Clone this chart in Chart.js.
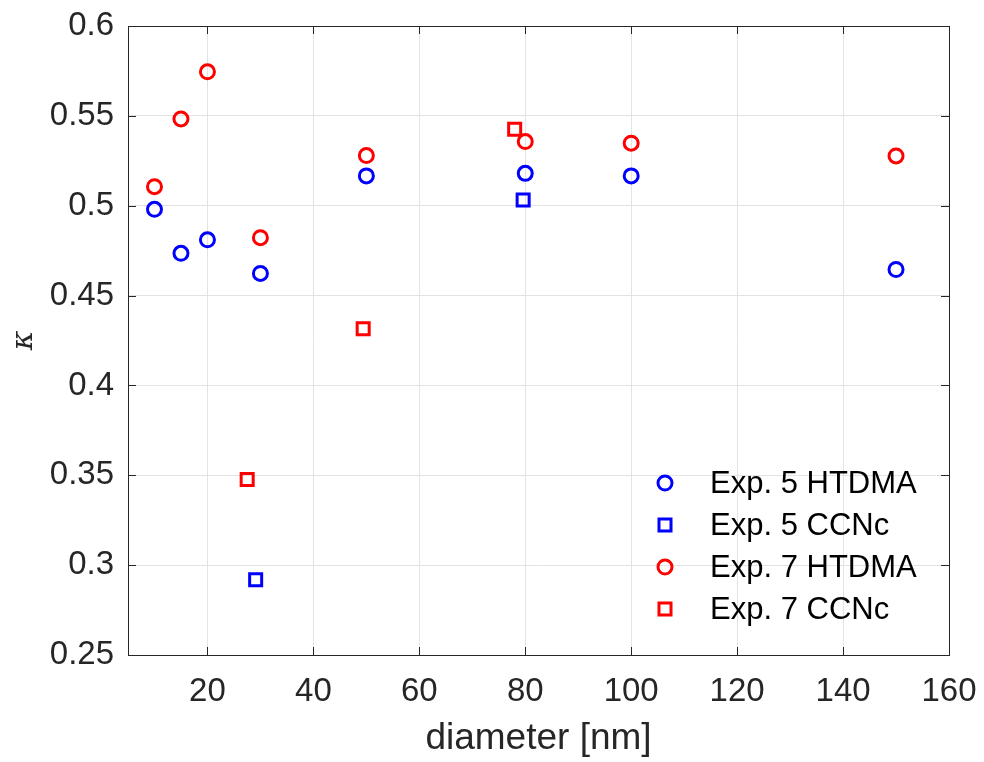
<!DOCTYPE html>
<html>
<head>
<meta charset="utf-8">
<script src="https://cdn.jsdelivr.net/npm/chart.js@4"></script>
<style>
html,body{margin:0;padding:0;background:#fff;}
#wrap{width:984px;height:762px;}
</style>
</head>
<body>
<div id="wrap"><canvas id="c" width="984" height="762"></canvas></div>
<script>
const diameters = [10, 15, 20, 30, 50, 80, 100, 150];
const exp5Htdma = [0.498, 0.4735, 0.481, 0.4623, 0.5166, 0.518, 0.5166, 0.4645];
const exp7Htdma = [0.5106, 0.5483, 0.5745, 0.4822, 0.5279, 0.5357, 0.5348, 0.5277];
const exp5CcncD = [29.1, 79.6];
const exp5Ccnc = [0.2919, 0.5032];
const exp7CcncD = [27.5, 49.4, 78.0];
const exp7Ccnc = [0.3477, 0.4315, 0.5426];
const xTicks = [20, 40, 60, 80, 100, 120, 140, 160];
const yTicks = [0.25, 0.3, 0.35, 0.4, 0.45, 0.5, 0.55, 0.6];
const seriesLabels = ['Exp. 5 HTDMA', 'Exp. 5 CCNc', 'Exp. 7 HTDMA', 'Exp. 7 CCNc'];

const pts = (xs, ys) => xs.map((x, i) => ({x: x, y: ys[i]}));
const FONT = "'Liberation Sans', Arial, Helvetica, sans-serif";
const AXC = '#262626';

function ds(label, data, color, style, r) {
  return {label, data, borderColor: color, backgroundColor: 'rgba(0,0,0,0)',
    pointBackgroundColor: 'rgba(0,0,0,0)', pointBorderColor: color,
    pointStyle: style, pointRadius: r, pointHoverRadius: r, pointBorderWidth: 3, showLine: false};
}

function zeroPad(s) { s.paddingTop = 0; s.paddingBottom = 0; s.paddingLeft = 0; s.paddingRight = 0; }

const framePlugin = {
  id: 'frame',
  afterDatasetsDraw(chart) {
    const {ctx, chartArea: a, scales} = chart;
    ctx.save();
    ctx.strokeStyle = AXC;
    ctx.lineWidth = 1;
    ctx.beginPath();
    xTicks.forEach(v => {
      const px = Math.round(scales.x.getPixelForValue(v)) + 0.5;
      ctx.moveTo(px, a.bottom); ctx.lineTo(px, a.bottom - 8);
      ctx.moveTo(px, a.top); ctx.lineTo(px, a.top + 8);
    });
    yTicks.forEach(v => {
      const py = Math.round(scales.y.getPixelForValue(v)) + 0.5;
      ctx.moveTo(a.left, py); ctx.lineTo(a.left + 8, py);
      ctx.moveTo(a.right, py); ctx.lineTo(a.right - 8, py);
    });
    ctx.stroke();
    ctx.strokeRect(Math.round(a.left) + 0.5, Math.round(a.top) + 0.5,
      Math.round(a.right - a.left), Math.round(a.bottom - a.top));
    // legend
    const x0 = 665, tx = 710, y0 = 483, dy = 42;
    ctx.font = '31px ' + FONT;
    ctx.textBaseline = 'middle';
    ctx.textAlign = 'left';
    chart.data.datasets.forEach((d, i) => {
      const y = y0 + i * dy;
      ctx.strokeStyle = d.pointBorderColor;
      ctx.fillStyle = 'rgba(0,0,0,0)';
      ctx.lineWidth = 3;
      Chart.helpers.drawPoint(ctx, {pointStyle: d.pointStyle, radius: d.pointRadius, borderWidth: 3, rotation: 0}, x0, y);
      ctx.fillStyle = '#000';
      ctx.fillText(d.label, tx, y + 1);
    });
    ctx.restore();
  }
};

new Chart(document.getElementById('c'), {
  type: 'scatter',
  data: {
    datasets: [
      ds(seriesLabels[0], pts(diameters, exp5Htdma), '#0000ff', 'circle', 7),
      ds(seriesLabels[1], pts(exp5CcncD, exp5Ccnc), '#0000ff', 'rect', 8.5),
      ds(seriesLabels[2], pts(diameters, exp7Htdma), '#ff0000', 'circle', 7),
      ds(seriesLabels[3], pts(exp7CcncD, exp7Ccnc), '#ff0000', 'rect', 8.5)
    ]
  },
  options: {
    responsive: false,
    animation: false,
    events: [],
    layout: {padding: {top: 26, right: 35, left: 0, bottom: 0}},
    plugins: {legend: {display: false}, tooltip: {enabled: false}},
    scales: {
      x: {
        type: 'linear', min: 5, max: 160,
        afterBuildTicks: s => { s.ticks = xTicks.map(v => ({value: v})); },
        afterFit: s => { s.height = 107; zeroPad(s); },
        grid: {color: '#e3e3e3', lineWidth: 1, drawTicks: false},
        border: {display: false},
        ticks: {font: {family: FONT, size: 33}, color: AXC, padding: 17, maxRotation: 0,
          callback: v => String(v)},
        title: {display: true, text: 'diameter [nm]', font: {family: FONT, size: 37}, color: AXC,
          padding: {top: 0, bottom: 1}}
      },
      y: {
        type: 'linear', min: 0.25, max: 0.6,
        afterBuildTicks: s => { s.ticks = yTicks.map(v => ({value: v})); },
        afterFit: s => { s.width = 128; zeroPad(s); },
        grid: {color: '#e3e3e3', lineWidth: 1, drawTicks: false},
        border: {display: false},
        ticks: {font: {family: FONT, size: 33}, color: AXC, padding: 14,
          callback: v => String(parseFloat(Number(v).toFixed(2)))},
        title: {display: true, text: 'κ', font: {family: "'DejaVu Serif', serif", size: 30, style: 'italic'}, color: AXC,
          padding: {top: 6, bottom: 0}}
      }
    }
  },
  plugins: [framePlugin]
});
</script>
</body>
</html>
